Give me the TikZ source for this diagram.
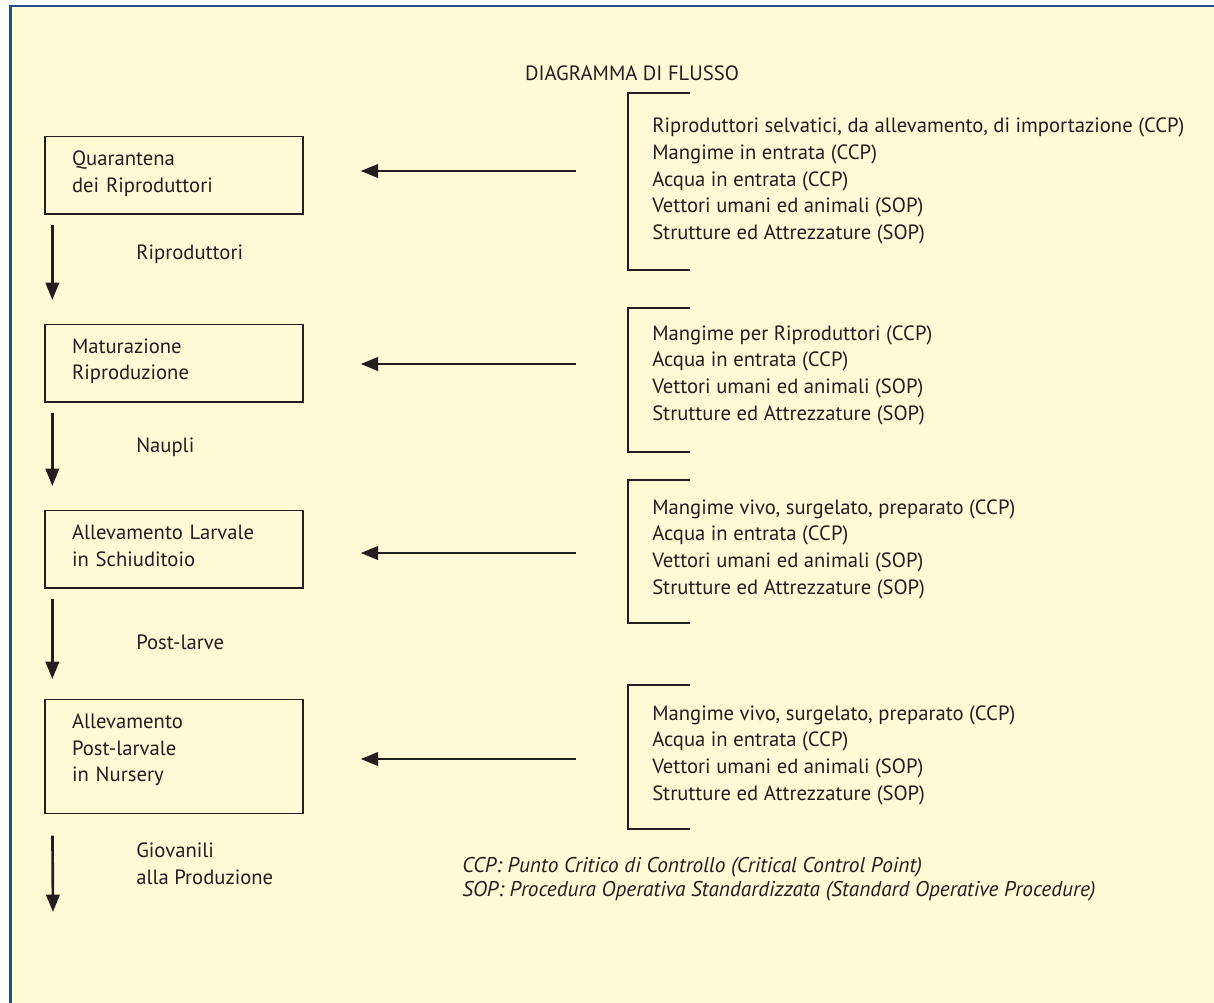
\documentclass[tikz,border=0pt]{standalone}
\usepackage{fontspec}
\setmainfont{PT Sans}
\usetikzlibrary{arrows.meta}
\definecolor{cream}{HTML}{FFF9D6}
\definecolor{frameblue}{HTML}{1D4F8F}
\definecolor{ink}{HTML}{231F20}
\begin{document}
\begin{tikzpicture}[x=0.75pt,y=-0.75pt,
  every node/.style={text=ink, font=\fontsize{15.5}{20}\selectfont},
  stage/.style={draw=ink, line width=1pt, align=left, text width=153pt,
    inner xsep=20.25pt, inner ysep=10.5pt, anchor=north},
  flow/.style={draw=ink, line width=2pt, -{Triangle[width=10pt,length=13pt]}},
  brk/.style={draw=ink, line width=2.2pt},
  inputs/.style={align=left, anchor=west, inner sep=0pt},
  lbl/.style={anchor=west, inner sep=0pt, align=left}]
\useasboundingbox (0,0) rectangle (1214,1003);
\fill[white] (0,0) rectangle (1214,1003);
\fill[cream] (10.5,6) rectangle (1214,1003);
\draw[frameblue, line width=2.2pt] (10.5,1003) -- (10.5,6) -- (1214,6);

\node (title) at (632,73) {DIAGRAMMA DI FLUSSO};

% stages
\node[stage] (b1) at (174,136) {Quarantena\\dei Riproduttori\rule[-6pt]{0pt}{0pt}};
\node[stage] (b2) at (174,324) {Maturazione\\Riproduzione\rule[-6pt]{0pt}{0pt}};
\node[stage] (b3) at (174,510) {Allevamento Larvale\\in Schiuditoio\rule[-6pt]{0pt}{0pt}};
\node[stage] (b4) at (174,699) {Allevamento\\Post-larvale\\in Nursery\rule[-13.5pt]{0pt}{0pt}};

% flow arrows
\draw[flow, shorten <=7.5pt, shorten >=18pt] ([xshift=6pt]b1.south west) -- ([xshift=6pt]b2.north west);
\draw[flow, shorten <=7.5pt, shorten >=18pt] ([xshift=6pt]b2.south west) -- ([xshift=6pt]b3.north west);
\draw[flow, shorten <=7.5pt, shorten >=15pt] ([xshift=6pt]b3.south west) -- ([xshift=6pt]b4.north west);
\coordinate (out) at (53,912);
\draw[flow, shorten <=16pt] ([xshift=6pt]b4.south west) -- (out);

% flow labels
\node[lbl] (l1) at (136,254) {Riproduttori};
\node[lbl] (l2) at (136,447) {Naupli};
\node[lbl] (l3) at (136,642) {Post-larve};
\node[lbl] (l4) at (136,864) {Giovanili\\alla Produzione};

% input lists
\node[inputs] (i1) at (652,181) {Riproduttori selvatici, da allevamento, di importazione (CCP)\\Mangime in entrata (CCP)\\Acqua in entrata (CCP)\\Vettori umani ed animali (SOP)\\Strutture ed Attrezzature (SOP)};
\node[inputs] (i2) at (652,375) {Mangime per Riproduttori (CCP)\\Acqua in entrata (CCP)\\Vettori umani ed animali (SOP)\\Strutture ed Attrezzature (SOP)};
\node[inputs] (i3) at (652,549) {Mangime vivo, surgelato, preparato (CCP)\\Acqua in entrata (CCP)\\Vettori umani ed animali (SOP)\\Strutture ed Attrezzature (SOP)};
\node[inputs] (i4) at (652,755) {Mangime vivo, surgelato, preparato (CCP)\\Acqua in entrata (CCP)\\Vettori umani ed animali (SOP)\\Strutture ed Attrezzature (SOP)};

% brackets
\draw[brk] (690,93) -- (628,93) -- (628,270) -- (690,270);
\draw[brk] (690,308) -- (628,308) -- (628,452) -- (690,452);
\draw[brk] (690,480) -- (628,480) -- (628,623) -- (690,623);
\draw[brk] (690,685) -- (628,685) -- (628,829) -- (690,829);

% input arrows
\coordinate (c1) at (576,171);
\coordinate (c2) at (576,364);
\coordinate (c3) at (576,553);
\coordinate (c4) at (576,759);
\draw[flow, shorten >=42.75pt] (c1) -- (c1 -| b1.east);
\draw[flow, shorten >=42.75pt] (c2) -- (c2 -| b2.east);
\draw[flow, shorten >=42.75pt] (c3) -- (c3 -| b3.east);
\draw[flow, shorten >=42.75pt] (c4) -- (c4 -| b4.east);

% legend
\node[anchor=west, inner sep=0pt, align=left, font=\fontsize{16}{18}\selectfont\itshape] (legend) at (462,879)
  {CCP: Punto Critico di Controllo (Critical Control Point)\\SOP: Procedura Operativa Standardizzata (Standard Operative Procedure)};
\end{tikzpicture}
\end{document}
